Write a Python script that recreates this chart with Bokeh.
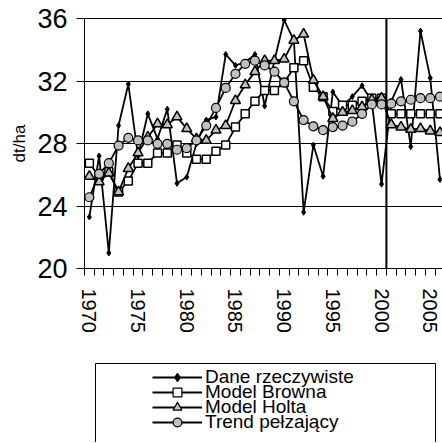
from bokeh.plotting import figure
from bokeh.models import (Range1d, FixedTicker, LinearAxis, Span, Legend, LegendItem,
                          ColumnDataSource, Grid, Title)
from bokeh.layouts import column
from bokeh.embed import file_html
from bokeh.resources import INLINE

FONT = "Liberation Sans"

years = list(range(1970, 2007))
label_years = [1970, 1975, 1980, 1985, 1990, 1995, 2000, 2005]
y_ticks = [20, 24, 28, 32, 36]

dane = [23.3, 27.2, 21.0, 29.15, 31.8, 27.2, 29.9, 28.3, 30.2, 25.45,
        25.85, 28.0, 29.5, 29.7, 33.7, 33.0, 33.2, 33.7, 30.4, 33.3,
        35.9, 34.6, 23.6, 27.9, 25.9, 31.3, 30.4, 31.0, 31.7, 30.7,
        25.4, 30.7, 32.1, 27.8, 35.2, 32.2, 25.7]
brown = [26.74, 25.9, 26.2, 24.9, 25.6, 26.74, 26.74, 27.4, 27.4, 27.9,
         27.4, 27.0, 27.0, 27.5, 27.9, 29.05, 29.9, 30.7, 31.4, 31.4,
         31.9, 32.85, 33.3, 31.6, 31.0, 30.05, 30.45, 30.45, 30.7, 30.9,
         30.9, 29.9, 29.9, 29.9, 29.9, 29.9, 29.9]
holt = [25.9, 25.55, 26.1, 24.9, 26.4, 27.4, 28.4, 29.25, 29.2, 29.7,
        28.95, 28.3, 28.2, 28.85, 29.15, 30.75, 31.75, 32.6, 33.3, 33.3,
        33.4, 34.6, 35.0, 32.05, 31.0, 29.6, 30.0, 30.1, 30.35, 30.8,
        30.9, 29.2, 29.05, 28.9, 28.95, 28.8, 28.7]
trend = [24.56, 26.06, 26.74, 27.87, 28.36, 28.2, 28.2, 27.98, 27.98, 27.6,
         27.7, 28.2, 29.15, 30.28, 31.56, 32.46, 33.1, 33.3, 33.0, 32.6,
         31.9, 30.7, 29.5, 29.1, 28.85, 29.05, 29.15, 29.4, 29.9, 30.5,
         30.5, 30.55, 30.7, 30.8, 30.9, 30.9, 31.0]
forecast_start = 2000.5

labels = ["Dane rzeczywiste", "Model Browna", "Model Holta", "Trend pełzający"]
cols = ["dane", "brown", "holt", "trend"]

src = ColumnDataSource(dict(year=years, dane=dane, brown=brown, holt=holt, trend=trend))

W = 442
p = figure(width=W, height=348, x_range=Range1d(1969.5, 2006.26), y_range=Range1d(20, 36),
           toolbar_location=None, output_backend="svg",
           min_border_left=84, min_border_right=0, min_border_top=18, min_border_bottom=80,
           outline_line_color=None, x_axis_type=None, y_axis_type=None)
p.frame_align = False
p.background_fill_color = "white"
p.border_fill_color = "white"

# axes
xaxis = LinearAxis(ticker=FixedTicker(ticks=label_years,
                                      minor_ticks=[y - 0.5 for y in years] + [years[-1] + 0.5]))
xaxis.major_tick_out = 0
xaxis.major_tick_in = 0
xaxis.minor_tick_out = 7
xaxis.minor_tick_in = 0
xaxis.minor_tick_line_color = "black"
xaxis.axis_line_color = "black"
xaxis.major_label_orientation = "vertical"
xaxis.major_label_standoff = 13
xaxis.major_label_text_font = FONT
xaxis.major_label_text_font_size = "20px"
xaxis.major_label_text_color = "black"
p.add_layout(xaxis, "below")

yaxis = LinearAxis(ticker=FixedTicker(ticks=y_ticks))
yaxis.major_tick_out = 8
yaxis.major_tick_in = 0
yaxis.minor_tick_out = 0
yaxis.minor_tick_in = 0
yaxis.axis_line_color = "black"
yaxis.major_tick_line_color = "black"
yaxis.major_label_standoff = 9
yaxis.major_label_text_font = FONT
yaxis.major_label_text_font_size = "27px"
yaxis.major_label_text_color = "black"
p.add_layout(yaxis, "left")

ytitle = Title(text="dt/ha", align="center", text_font=FONT, text_font_size="17px",
               text_font_style="normal", text_color="black", standoff=11)
p.add_layout(ytitle, "left")

top = LinearAxis(ticker=FixedTicker(ticks=[]))
top.major_label_text_font_size = "0px"
top.major_tick_out = 0
top.major_tick_in = 0
top.minor_tick_out = 0
top.minor_tick_in = 0
top.major_label_standoff = 0
top.axis_line_color = "black"
p.add_layout(top, "above")

p.add_layout(Grid(dimension=1, ticker=FixedTicker(ticks=[24, 28, 32]),
                  grid_line_color="black", grid_line_width=1))

p.add_layout(Span(location=forecast_start, dimension="height", line_color="black", line_width=2))

LW = 1.8
styles = {
    "dane": dict(marker="diamond", size=6, fill_color="black", line_width=1),
    "brown": dict(marker="square", size=8, fill_color="white", line_width=1.5),
    "holt": dict(marker="triangle", size=10, fill_color="#c0c0c0", line_width=1.5),
    "trend": dict(marker="circle", size=9, fill_color="#c0c0c0", line_width=1.2),
}
for c in cols:
    st = styles[c]
    p.line("year", c, source=src, line_color="black", line_width=LW)
    p.scatter("year", c, source=src, marker=st["marker"], size=st["size"],
              fill_color=st["fill_color"], line_color="black", line_width=st["line_width"])

# legend panel
p2 = figure(width=W, height=94, x_range=(0, 1), y_range=(0, 1),
            toolbar_location=None, output_backend="svg",
            min_border_left=95, min_border_right=7, min_border_top=15, min_border_bottom=0,
            outline_line_color=None, x_axis_type=None, y_axis_type=None)
p2.frame_align = False
p2.border_fill_color = "white"
for side in ("left", "right", "above"):
    ax = LinearAxis(ticker=FixedTicker(ticks=[]))
    ax.major_label_text_font_size = "0px"
    ax.major_tick_out = 0
    ax.major_tick_in = 0
    ax.minor_tick_out = 0
    ax.minor_tick_in = 0
    ax.major_label_standoff = 0
    ax.axis_line_color = "black"
    p2.add_layout(ax, side)

leg_styles = {
    "dane": dict(marker="diamond", size=5, fill_color="black", line_width=1),
    "brown": dict(marker="square", size=7, fill_color="white", line_width=1.2),
    "holt": dict(marker="triangle", size=7, fill_color="#c0c0c0", line_width=1.2),
    "trend": dict(marker="circle", size=7, fill_color="#c0c0c0", line_width=1.2),
}
# each legend row placed separately to get the tight row pitch of the original
row_offsets = [54, 39, 24, 9]
for lab, c, yoff in zip(labels, cols, row_offsets):
    st = leg_styles[c]
    lr = p2.line("year", c, source=src, line_color="black", line_width=LW)
    sr = p2.scatter("year", c, source=src, marker=st["marker"], size=st["size"],
                    fill_color=st["fill_color"], line_color="black", line_width=st["line_width"])
    leg = Legend(items=[LegendItem(label=lab, renderers=[lr, sr])], location=(57, yoff),
                 padding=0, spacing=0, margin=0,
                 border_line_color=None, background_fill_alpha=0,
                 glyph_width=50, glyph_height=22, label_height=22, label_standoff=3,
                 label_text_font=FONT, label_text_font_size="19px", label_text_color="black")
    p2.add_layout(leg)

layout = column(p, p2, spacing=0)
open("out.html", "w").write(file_html(layout, INLINE))
